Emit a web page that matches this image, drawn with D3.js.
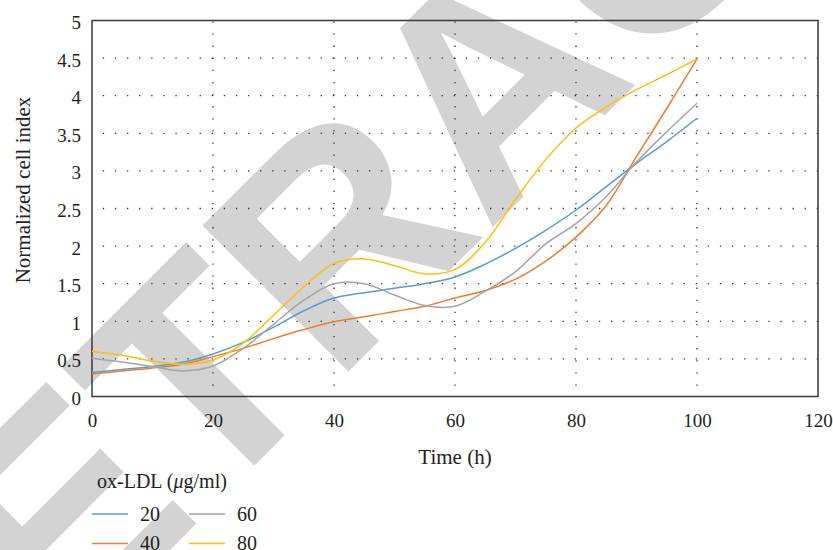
<!DOCTYPE html>
<html>
<head>
<meta charset="utf-8">
<script src="https://cdn.jsdelivr.net/npm/d3@7"></script>
<style>
  body { margin: 0; background: #fff; }
  text { font-family: "Liberation Serif", "Times New Roman", serif; fill: #231f20; }
</style>
</head>
<body>
<svg id="chart" width="833" height="550"></svg>
<script>
// values, every 5 h
const hours = [0, 5, 10, 15, 20, 25, 30, 35, 40, 45, 50, 55, 60, 65, 70, 75, 80, 85, 90, 95, 100];
const dose20 = [0.32, 0.36, 0.40, 0.455, 0.565, 0.72, 0.92, 1.14, 1.31, 1.38, 1.44, 1.50, 1.59, 1.76, 1.97, 2.21, 2.48, 2.79, 3.10, 3.39, 3.70];
const dose40 = [0.30, 0.34, 0.38, 0.43, 0.53, 0.64, 0.77, 0.89, 0.995, 1.06, 1.13, 1.20, 1.31, 1.41, 1.56, 1.80, 2.12, 2.54, 3.19, 3.83, 4.49];
const dose60 = [0.51, 0.46, 0.40, 0.34, 0.405, 0.64, 0.96, 1.28, 1.50, 1.50, 1.35, 1.21, 1.20, 1.40, 1.66, 2.03, 2.30, 2.66, 3.12, 3.52, 3.90];
const dose80 = [0.60, 0.55, 0.47, 0.43, 0.485, 0.71, 1.08, 1.46, 1.77, 1.83, 1.74, 1.63, 1.69, 2.05, 2.62, 3.15, 3.57, 3.85, 4.08, 4.28, 4.49];

const seriesNames = ['20', '40', '60', '80'];
const seriesColors = ['#5b9bd5', '#ed7d31', '#a5a5a5', '#ffc000'];
const seriesValues = [dose20, dose40, dose60, dose80];

const xTicks = [0, 20, 40, 60, 80, 100, 120];
const yTicks = [0, 0.5, 1, 1.5, 2, 2.5, 3, 3.5, 4, 4.5, 5];

const margin = { top: 20.5, left: 92, right: 15, bottom: 153.5 };
const width = 833 - margin.left - margin.right;
const height = 550 - margin.top - margin.bottom;

const svg = d3.select('#chart');

// retraction stamp behind everything
svg.append('text')
    .attr('transform', 'translate(-90,810) rotate(-45)')
    .style('font-family', '"Liberation Sans", Arial, sans-serif')
    .style('font-weight', 'bold')
    .style('font-size', '300px')
    .style('fill', '#d3d3d3')
    .text('RETRACTED');

const g = svg.append('g')
    .attr('transform', `translate(${margin.left},${margin.top})`);

const x = d3.scaleLinear().domain([0, 120]).range([0, width]);
const y = d3.scaleLinear().domain([0, 5]).range([height, 0]);

// dotted grid
g.selectAll('.hgrid')
    .data(yTicks.filter(d => d > 0 && d < 5))
    .join('line')
    .attr('class', 'hgrid')
    .attr('x1', 0).attr('x2', width)
    .attr('y1', d => y(d)).attr('y2', d => y(d))
    .attr('stroke', '#333')
    .attr('stroke-width', 1.3)
    .attr('stroke-dasharray', '1.3,10.8')
    .attr('stroke-dashoffset', -10.8);

g.selectAll('.vgrid')
    .data(xTicks.filter(d => d > 0 && d < 120))
    .join('line')
    .attr('class', 'vgrid')
    .attr('x1', d => x(d)).attr('x2', d => x(d))
    .attr('y1', height).attr('y2', 0)
    .attr('stroke', '#333')
    .attr('stroke-width', 1.3)
    .attr('stroke-dasharray', '1.3,10.8')
    .attr('stroke-dashoffset', -10.8);

// frame
g.append('rect')
    .attr('width', width)
    .attr('height', height)
    .attr('fill', 'none')
    .attr('stroke', '#3a3a3a')
    .attr('stroke-width', 1.5);

// axes (labels only, the frame is the axis line)
const xAxis = g.append('g')
    .attr('transform', `translate(0,${height})`)
    .call(d3.axisBottom(x).tickValues(xTicks).tickSize(0).tickPadding(17));
const yAxis = g.append('g')
    .call(d3.axisLeft(y).tickValues(yTicks).tickSize(0).tickPadding(11).tickFormat(d => String(d)));
yAxis.selectAll('text').attr('dy', '0.42em');
[xAxis, yAxis].forEach(a => {
    a.select('.domain').remove();
    a.selectAll('text')
        .style('font-family', '"Liberation Serif", serif')
        .style('font-size', '19px')
        .attr('fill', '#231f20');
});

// curves
const line = d3.line()
    .x((d, i) => x(hours[i]))
    .y(d => y(d))
    .curve(d3.curveCatmullRom.alpha(0.5));

g.selectAll('.series')
    .data(seriesValues)
    .join('path')
    .attr('class', 'series')
    .attr('d', d => line(d))
    .attr('fill', 'none')
    .attr('stroke', (d, i) => seriesColors[i])
    .attr('stroke-width', 1.5);

// axis titles
svg.append('text')
    .attr('x', margin.left + width / 2)
    .attr('y', 464)
    .attr('text-anchor', 'middle')
    .style('font-size', '21px')
    .text('Time (h)');

svg.append('text')
    .attr('transform', 'translate(30,190) rotate(-90)')
    .attr('text-anchor', 'middle')
    .style('font-size', '21px')
    .text('Normalized cell index');

// legend
const legendTitle = svg.append('text')
    .attr('x', 97)
    .attr('y', 488)
    .style('font-size', '20px');
legendTitle.append('tspan').text('ox-LDL (');
legendTitle.append('tspan').style('font-style', 'italic').text('\u03bc');
legendTitle.append('tspan').text('g/ml)');

const legend = svg.append('g')
    .selectAll('g')
    .data(seriesNames)
    .join('g')
    .attr('transform', (d, i) => `translate(${92 + Math.floor(i / 2) * 97},${514 + (i % 2) * 29.5})`);

legend.append('line')
    .attr('x1', 0).attr('x2', 36)
    .attr('stroke', (d, i) => seriesColors[i])
    .attr('stroke-width', 1.5);

legend.append('text')
    .attr('x', 48)
    .attr('y', 6.5)
    .style('font-size', '20px')
    .text(d => d);
</script>
</body>
</html>
